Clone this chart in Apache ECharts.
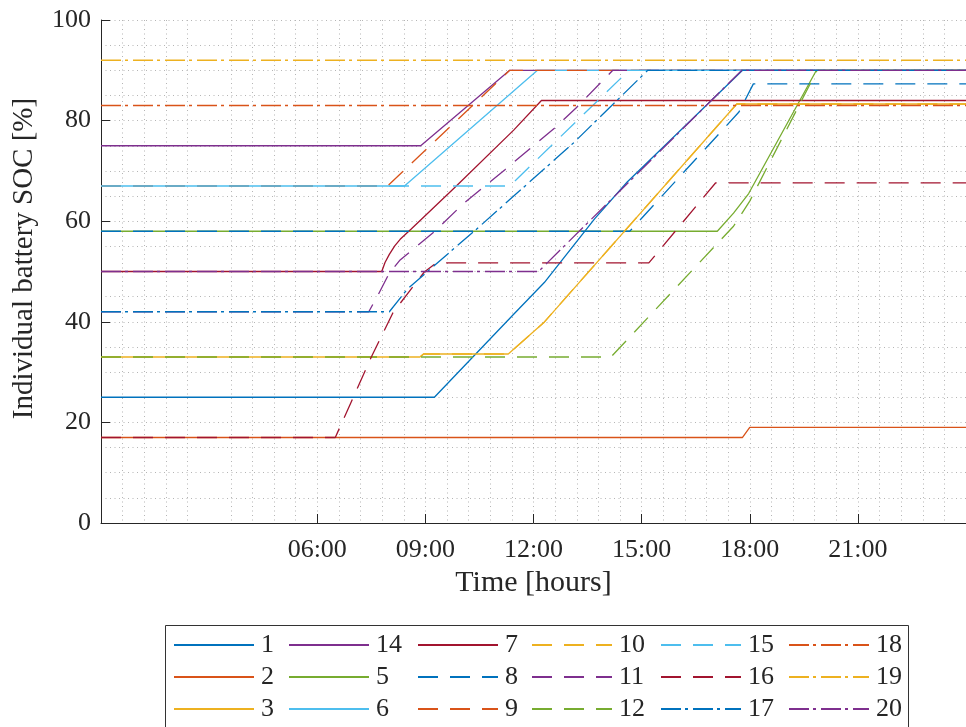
<!DOCTYPE html>
<html>
<head>
<meta charset="utf-8">
<script src="https://cdn.jsdelivr.net/npm/echarts@6/dist/echarts.min.js"></script>
<style>html,body{margin:0;padding:0;background:#fff;}#c{width:966px;height:727px;}</style>
</head>
<body>
<div id="c"></div>
<script>
// ---- data (time in hours, SOC in %) ----
const labels = ['1','2','3','14','5','6','7','8','9','10','11','12','15','16','17','18','19','20'];
const s1  = [[0,25],[9.25,25],[11.45,41.5],[12.3,47.8],[13.7,60.5],[14.6,67.8],[17.8,90],[24,90]];
const s2  = [[0,17],[17.8,17],[18.0,19],[24,19]];
const s3  = [[0,33],[8.85,33],[8.95,33.6],[11.3,33.6],[12.28,39.8],[17.64,83.3],[24,83.3]];
const s14 = [[0,75],[8.87,75],[11.34,90],[24,90]];
const s5  = [[0,58],[17.1,58],[17.55,61.6],[17.97,65.5],[19.85,90],[24,90]];
const s6  = [[0,67],[8.42,67],[12.11,90],[24,90]];
const s7  = [[0,50],[7.79,50],[7.88,51.8],[8.0,53.4],[8.15,55.1],[8.3,56.4],[8.6,58.4],[9.83,66.8],[11.45,78.1],[12.22,84],[24,84]];
const s8  = [[0,58],[14.67,58],[17.7,81.7],[18.1,87.3],[24,87.3]];
const s9  = [[0,67],[7.95,67],[11.34,90],[24,90]];
const s10 = [[0,33],[8.85,33],[8.95,33.6],[11.3,33.6],[12.28,39.8],[17.64,83.3],[24,83.3]];
const s11 = [[0,42],[7.43,42],[7.7,45.5],[8.0,49.7],[8.3,52.3],[9.25,57.9],[10.07,63.6],[11.2,70.2],[12.58,78.5],[13.18,82.5],[14.2,90],[24,90]];
const s12 = [[0,33],[14.15,33],[17.55,59],[18.0,64],[19.87,90],[24,90]];
const s15 = [[0,67],[11.34,67],[14.65,90],[24,90]];
const s16 = [[0,17],[6.5,17],[7.0,25],[7.5,33],[8.1,41.8],[8.55,46],[8.97,49.9],[9.3,51.7],[15.2,51.7],[17.05,67.6],[24,67.6]];
const s17 = [[0,42],[8.0,42],[8.5,46.5],[9.25,51.2],[10.4,58.3],[13.1,75.5],[15.17,90],[24,90]];
const s18 = [[0,83],[24,83]];
const s19 = [[0,92],[24,92]];
const s20 = [[0,50],[12.14,50],[17.78,90],[24,90]];
const seriesData = [s1,s2,s3,s14,s5,s6,s7,s8,s9,s10,s11,s12,s15,s16,s17,s18,s19,s20];
const xTickValues = [6,9,12,15,18,21];
const legendColumns = [['1','2','3'],['14','5','6'],['7','8','9'],['10','11','12'],['15','16','17'],['18','19','20']];

// ---- styles ----
const palette = ['#0072BD','#D95319','#EDB120','#7E2F8E','#77AC30','#4DBEEE','#A2142F'];
const DASH = [20,12];
const DASHDOT = [20,4,3,5];
const styleOf = i => i < 7 ? 'solid' : (i < 14 ? DASH : DASHDOT);
const FONT = 'Liberation Serif';
const TXT = '#262626';
const gridDot = {type:[1,3.5], color:'#b5b5b5', width:1};
const legendLeft = [173,288,417,531,660,788];

const chart = echarts.init(document.getElementById('c'), null, {renderer:'canvas'});
const option = {
  animation:false,
  backgroundColor:'#fff',
  grid:{left:101, top:20, right:-7, bottom:204, containLabel:false},
  xAxis:{
    type:'value', min:0, max:24, interval:3,
    name:'Time [hours]', nameLocation:'middle', nameGap:44,
    nameTextStyle:{fontFamily:FONT, fontSize:30, color:TXT},
    axisLine:{show:true, onZero:false, lineStyle:{color:TXT, width:1}},
    axisTick:{show:true, inside:true, length:9, customValues:xTickValues, lineStyle:{color:TXT}},
    axisLabel:{customValues:xTickValues, fontFamily:FONT, fontSize:26, color:TXT, margin:14,
      formatter:v => (v<10?'0':'')+v+':00'},
    splitLine:{show:true, lineStyle:gridDot},
    minorTick:{show:false, splitNumber:5},
    minorSplitLine:{show:true, lineStyle:gridDot}
  },
  yAxis:{
    type:'value', min:0, max:100, interval:20,
    name:'Individual battery SOC [%]', nameLocation:'middle', nameGap:62, nameRotate:90,
    nameTextStyle:{fontFamily:FONT, fontSize:29, color:TXT, padding:[0,0,0,26]},
    axisLine:{show:true, onZero:false, lineStyle:{color:TXT, width:1}},
    axisTick:{show:true, inside:true, length:9, lineStyle:{color:TXT}},
    axisLabel:{fontFamily:FONT, fontSize:26, color:TXT, margin:10},
    splitLine:{show:true, lineStyle:gridDot},
    minorTick:{show:false, splitNumber:4},
    minorSplitLine:{show:true, lineStyle:gridDot}
  },
  graphic:[{type:'rect', z:1, shape:{x:165.5, y:625.5, width:743, height:130},
    style:{fill:'#fff', stroke:'#333', lineWidth:1}}],
  legend: legendColumns.map((names,i)=>({
    orient:'vertical', left:legendLeft[i], top:632, z:10, padding:0, height:100,
    itemWidth:80, itemHeight:14, itemGap:6, selectedMode:false,
    itemStyle:{color:'rgba(0,0,0,0)', borderWidth:0, opacity:0},
    data:names,
    textStyle:{fontFamily:FONT, fontSize:26, color:TXT, lineHeight:26, padding:[0,0,0,2]}
  })),
  series: seriesData.map((d,i)=>({
    name:labels[i], type:'line', data:d, symbol:'none', showSymbol:false,
    clip:true, z:2+i*0.01,
    lineStyle:{color:palette[i%7], width:1.3, type:styleOf(i)},
    itemStyle:{color:palette[i%7]},
    emphasis:{disabled:true}
  }))
};
chart.setOption(option);
</script>
</body>
</html>
